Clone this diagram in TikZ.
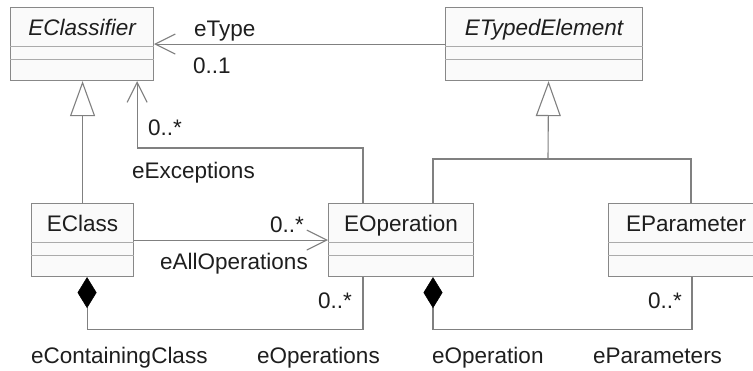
\documentclass[tikz,border=0pt]{standalone}
\usepackage{fontspec}
\setmainfont{Liberation Sans}
\usetikzlibrary{arrows.meta,calc}
\definecolor{linegray}{HTML}{808080}
\definecolor{boxgray}{HTML}{888888}
\definecolor{divgray}{HTML}{ABABAB}
\definecolor{boxfill}{HTML}{FAFAFA}
\definecolor{ink}{HTML}{1E1E1E}
\tikzset{
  umlbox/.style={draw=boxgray, fill=boxfill, line width=1.1pt, rectangle, anchor=north west, minimum height=73pt, inner sep=0pt},
  divider/.style={draw=divgray, line width=1pt},
  lbl/.style={text=ink, inner sep=0pt, anchor=base west, font=\fontsize{22.5}{27}\selectfont},
  title/.style={text=ink, inner sep=0pt, anchor=base, font=\fontsize{22.5}{27}\selectfont},
  conn/.style={draw=linegray, line width=1.1pt},
  assoc/.style={conn, -{Straight Barb[length=20pt, width=20pt, line width=1.1pt]}},
  gen/.style={conn, -{Triangle[open, length=35pt, width=25pt, fill=white, line width=1.1pt]}},
  comp/.style={conn, {Diamond[length=31pt, width=19pt, fill=black, line width=0.5pt, color=black]}-},
}
\newcommand{\compartments}[1]{%
  \draw[divider] ([yshift=-39pt]#1.north west) -- ([yshift=-39pt]#1.north east);
  \draw[divider] ([yshift=-52pt]#1.north west) -- ([yshift=-52pt]#1.north east);
}
\begin{document}
\begin{tikzpicture}[x=1pt, y=-1pt]
  \useasboundingbox (0,0) rectangle (753,370);
  \fill[white] (0,0) rectangle (753,370);
  \clip (0,0) rectangle (753,370);

  % classes
  \node[umlbox, minimum width=143pt] (ecl) at (10,7) {};
  \node[umlbox, minimum width=197pt] (ete) at (445,7) {};
  \node[umlbox, minimum width=102pt] (ecls) at (31,203) {};
  \node[umlbox, minimum width=145pt] (eop) at (328,203) {};
  \node[umlbox, minimum width=155pt] (epar) at (608,203) {};
  \compartments{ecl}
  \compartments{ete}
  \compartments{ecls}
  \compartments{eop}
  \compartments{epar}

  \node[title] (tecl) at ([yshift=-28pt]ecl.north) {\itshape EClassifier};
  \node[title] (tete) at ([yshift=-28pt]ete.north) {\itshape ETypedElement};
  \node[title] (tecls) at ([yshift=-28pt]ecls.north) {EClass};
  \node[title] (teop) at ([yshift=-28pt]eop.north) {EOperation};
  \node[title] (tepar) at ([yshift=-28pt]epar.north) {EParameter};

  % eType
  \draw[assoc] (ete.west) -- (ecl.east);

  % generalizations
  \draw[gen] (ecls.north) -- (ecls.north |- ecl.south);
  \coordinate (tj) at (548,159);
  \draw[gen] (tj) -- ([xshift=4.5pt]ete.south);
  \draw[conn] ([xshift=105pt]eop.north west) |- (tj) -| ([xshift=83pt]epar.north west);

  % eExceptions
  \draw[assoc] ([xshift=35pt]eop.north west) -- ++(0,-55) -| ([xshift=-17pt]ecl.south east);

  % eAllOperations
  \draw[assoc] (ecls.east) -- (eop.west);

  % containment
  \draw[comp] ([xshift=4.5pt]ecls.south) -- ++(0,52) -| ([xshift=35pt]eop.south west);
  \draw[comp] ([xshift=105pt]eop.south west) -- ++(0,52) -| ([xshift=84pt]epar.south west);

  % role names and multiplicities
  \node[lbl] (l1) at (194,36) {eType};
  \node[lbl] (l2) at (193,73) {0..1};
  \node[lbl] (l3) at (148,135) {0..*};
  \node[lbl] (l4) at (132,178) {eExceptions};
  \node[lbl] (l5) at (270,232) {0..*};
  \node[lbl] (l6) at (160,269) {eAllOperations};
  \node[lbl] (l7) at (318,308) {0..*};
  \node[lbl] (l8) at (648,308) {0..*};
  \node[lbl] (l9) at (31,363) {eContainingClass};
  \node[lbl] (l10) at (257,363) {eOperations};
  \node[lbl] (l11) at (432,363) {eOperation};
  \node[lbl] (l12) at (593,363) {eParameters};
\end{tikzpicture}
\end{document}
